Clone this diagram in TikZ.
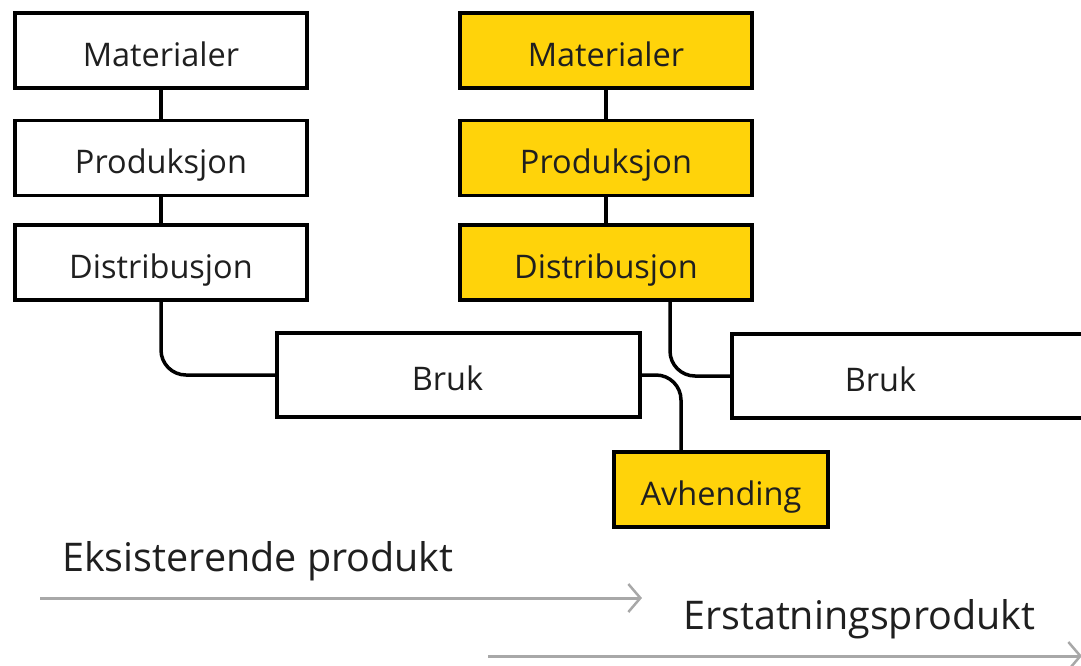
\documentclass[tikz,border=0pt]{standalone}
\usepackage{fontspec}
\setmainfont{Open Sans}
\usetikzlibrary{arrows.meta}
\definecolor{boxyellow}{RGB}{255,211,10}
\definecolor{arrowgray}{RGB}{168,168,168}
\tikzset{
  stage/.style={draw=black, line width=3.5pt, fill=white, minimum width=292pt, minimum height=75pt,
    inner sep=0pt, text height=31pt, text depth=0pt, font=\fontsize{32.5}{36}\selectfont, text=black!88},
  hot/.style={stage, fill=boxyellow},
  link/.style={draw=black, line width=3.5pt, rounded corners=25pt},
  timeline/.style={draw=arrowgray, line width=3pt, -{Straight Barb[length=12pt, width=28pt, line width=2.5pt]}},
  caption/.style={anchor=base west, inner sep=0pt, font=\fontsize{39.5}{44}\selectfont, text=black!88}
}
\begin{document}
\begin{tikzpicture}[x=1pt, y=-1pt]
\useasboundingbox (0,0) rectangle (1081,665);
\clip (0,0) rectangle (1081,665);
% left column
\node[stage] (lmat)  at (161,50.5) {Materialer};
\node[stage] (lprod) at (161,158) {Produksjon};
\node[stage] (ldist) at (161,262.5) {Distribusjon};
% right column
\node[hot] (rmat)  at (606,50.5) {Materialer};
\node[hot] (rprod) at (606,158) {Produksjon};
\node[hot] (rdist) at (606,262.5) {Distribusjon};
% use
\node[stage, minimum width=363pt, minimum height=84pt] (lbruk) at (458.5,375) {\hspace*{-22pt}Bruk};
\node[stage, minimum width=363pt, minimum height=84pt] (rbruk) at (913.5,376) {\hspace*{-66pt}Bruk};
\node[hot, minimum width=214pt, minimum height=75pt] (avh) at (721,489.5) {Avhending};
% connectors
\draw[link] (lmat) -- (lprod);
\draw[link] (lprod) -- (ldist);
\draw[link] (rmat) -- (rprod);
\draw[link] (rprod) -- (rdist);
\draw[link] (ldist.south) |- (lbruk.west);
\draw[link] ([xshift=64pt]rdist.south) |- (rbruk.west);
\draw[link] (lbruk.east) -| ([xshift=-40pt]avh.north);
% timelines
\node[caption] (exist) at (62,571) {Eksisterende produkt};
\node[caption] (repl) at (683,629) {Erstatningsprodukt};
\coordinate (t1s) at (40,598);
\coordinate (t1e) at (642,598);
\coordinate (t2s) at (488,656);
\coordinate (t2e) at (1082,656);
\draw[timeline] (t1s) -- (t1e);
\draw[timeline] (t2s) -- (t2e);
\end{tikzpicture}
\end{document}
